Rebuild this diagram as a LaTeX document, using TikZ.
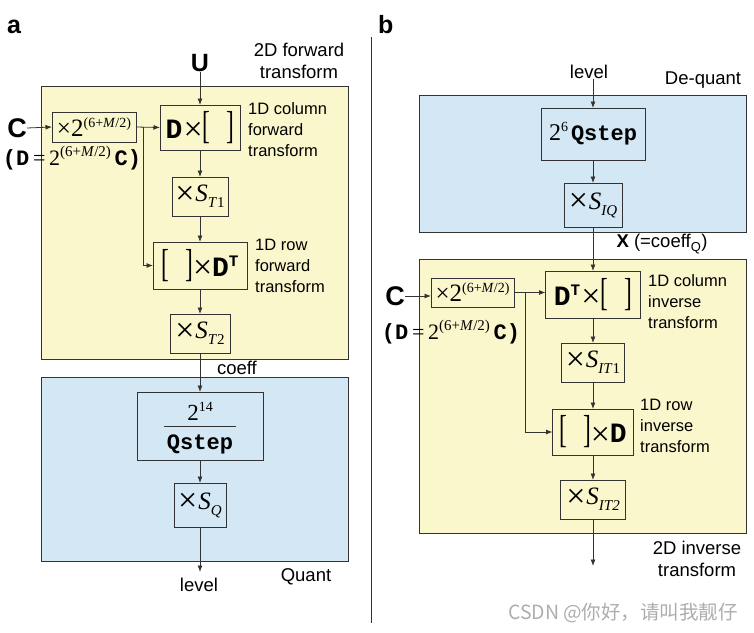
\documentclass[tikz,border=0pt]{standalone}
\usepackage{fontspec}
\usepackage{graphicx}
\setmainfont{Liberation Sans}
\newfontfamily\tms{Liberation Serif}
\newfontfamily\cour{Liberation Mono}
\newfontfamily\cjk{Noto Sans CJK SC}
\usetikzlibrary{arrows.meta}
\definecolor{yelc}{HTML}{FBF7CC}
\definecolor{bluc}{HTML}{D3E7F5}
\definecolor{edge}{HTML}{333333}
\newcommand{\fs}[1]{\fontsize{#1}{#1}\selectfont}
\newcommand{\tim}{\raisebox{-2.5pt}{\tms\fs{34}×}}
\newcommand{\bD}{{\cour\bfseries\fs{28}D}}
\newcommand{\brk}{{\tms\fs{39}\scalebox{0.6}[1]{[}\kern16pt\scalebox{0.6}[1]{]}}}
\newcommand{\Tsup}{\raisebox{10pt}{\cour\bfseries\fs{16}T}}
\newcommand{\expo}[1]{\raisebox{9pt}{\tms\fs{#1}(6+\textit{M}/2)}}
\newcommand{\Sb}[1]{{\tms\fs{25}\textit{S}}\raisebox{-6pt}{\tms\fs{15}#1}}
\tikzset{
  bx/.style={draw=edge, line width=0.9pt, inner sep=0pt, outer sep=0pt},
  yel/.style={fill=yelc, draw=edge, line width=1pt, inner sep=0pt},
  blu/.style={fill=bluc, draw=edge, line width=1pt, inner sep=0pt},
  arr/.style={-{Latex[length=6.5pt,width=5pt]}, line width=0.8pt, draw=edge},
  ln/.style={line width=0.8pt, draw=edge},
  lbl/.style={inner sep=0pt, font=\fontsize{16.5}{21}\selectfont, align=left, anchor=west},
  big/.style={inner sep=0pt, font=\fontsize{18.5}{22.5}\selectfont, align=center},
  panel/.style={inner sep=0pt, font=\bfseries\fontsize{25}{25}\selectfont, anchor=base west},
}
\begin{document}
\begin{tikzpicture}[x=1pt,y=-1pt]
\useasboundingbox (0,0) rectangle (754,632);
% ---------- panel a ----------
\node[panel] (pa) at (7,33) {a};
\node[yel, minimum width=307pt, minimum height=273pt] (yA) at (194.5,222.5) {};
\node[blu, minimum width=307pt, minimum height=184pt] (bA) at (194.5,469) {};
\node[big] (tA) at (299,61) {2D forward\\transform};
\node[inner sep=0pt, font=\bfseries\fs{25}] (U) at (200,63) {U};
\node[inner sep=0pt, font=\bfseries\fs{27}] (Ca) at (17,128) {C};
\node[inner sep=0pt] (dA) at (72,158) {{\cour\bfseries\fs{22}(D}{\tms\fs{22}\,=\,2}\expo{15}{\cour\bfseries\fs{22}\,C)}};
\node[bx, minimum width=84pt, minimum height=30pt] (multA) at (94,127) {{\tms\fs{25}×2}\expo{14}};
\node[bx, minimum width=80pt, minimum height=45pt] (colA) at (200,127.5) {\bD\kern1pt\tim\brk};
\node[lbl] (lcolA) at (248,129.5) {1D column\\forward\\transform};
\node[bx, minimum width=56pt, minimum height=39pt] (st1) at (200,196.5) {\tim\kern1pt\Sb{\textit{T}1}};
\node[bx, minimum width=94pt, minimum height=47pt] (rowA) at (200,265.5) {\brk\tim\bD\Tsup};
\node[lbl] (lrowA) at (255,266) {1D row\\forward\\transform};
\node[bx, minimum width=60pt, minimum height=39pt] (st2) at (200,333.5) {\tim\kern1pt\Sb{\textit{T}2}};
\node[big] (coeff) at (237,368) {coeff};
\node[bx, minimum width=126pt, minimum height=68pt] (qA) at (200,426) {};
\node[inner sep=0pt] (qnum) at (200,411) {{\tms\fs{23}2\raisebox{9pt}{\fs{14}14}}};
\node[inner sep=0pt] (qden) at (200,444) {{\cour\bfseries\fs{22}Qstep}};
\draw[ln] ([xshift=-36pt]qA.center) -- ([xshift=36pt]qA.center);
\node[bx, minimum width=52pt, minimum height=44pt] (sq) at (200,505) {\tim\kern1pt\Sb{\textit{Q}}};
\coordinate (endA) at (200,572);
\node[big] (lvA) at (199,585) {level};
\node[big] (quant) at (306,577) {Quant};
% connectors a
\draw[arr] (U.south) -- (colA.north);
\draw[arr] (Ca.east) -- (multA.west);
\draw[arr] (multA.east) -- (colA.west);
\coordinate (brA) at (143,127);
\draw[arr] (brA) |- (rowA.west);
\draw[arr] (colA.south) -- (st1.north);
\draw[arr] (st1.south) -- (rowA.north);
\draw[arr] (rowA.south) -- (st2.north);
\draw[arr] (st2.south) -- (qA.north);
\draw[arr] (qA.south) -- (sq.north);
\draw[arr] (sq.south) -- (endA);
% divider
\draw[line width=1pt, draw=edge] (371,37) -- (371,623);
% ---------- panel b ----------
\node[panel] (pb) at (378,33) {b};
\node[blu, minimum width=327pt, minimum height=137pt] (bB) at (582.5,163.5) {};
\node[yel, minimum width=327pt, minimum height=274pt] (yB) at (582.5,396) {};
\node[big] (lvB) at (589,72) {level};
\node[big] (deq) at (703,80) {De-quant};
\node[bx, minimum width=104pt, minimum height=52pt] (dq) at (593,134) {{\tms\fs{24}2\raisebox{9pt}{\fs{14}6}}\kern3pt{\cour\bfseries\fs{22}Qstep}};
\node[bx, minimum width=58pt, minimum height=44pt] (siq) at (593,205) {\tim\kern1pt\Sb{\textit{IQ}}};
\node[big] (xl) at (662,244) {\textbf{X} (=coeff\textsubscript{Q})};
\node[inner sep=0pt, font=\bfseries\fs{27}] (Cb) at (395,296) {C};
\node[inner sep=0pt] (dB) at (451,332) {{\cour\bfseries\fs{22}(D}{\tms\fs{22}\,=\,2}\expo{15}{\cour\bfseries\fs{22}\,C)}};
\node[bx, minimum width=83pt, minimum height=29pt] (multB) at (472.5,292.5) {{\tms\fs{25}×2}\expo{14}};
\node[bx, minimum width=95pt, minimum height=47pt] (colB) at (593,294.5) {\bD\Tsup\kern1pt\tim\brk};
\node[lbl] (lcolB) at (648,302) {1D column\\inverse\\transform};
\node[bx, minimum width=63pt, minimum height=39pt] (sit1) at (593,362.5) {\tim\kern1pt\Sb{\textit{IT}1}};
\node[bx, minimum width=81pt, minimum height=46pt] (rowB) at (593,432) {\brk\tim\bD};
\node[lbl] (lrowB) at (640,426) {1D row\\inverse\\transform};
\node[bx, minimum width=65pt, minimum height=39pt] (sit2) at (593,499.5) {\tim\kern1pt\Sb{\textit{IT2}}};
\coordinate (endB) at (593,566);
\node[big] (tB) at (697,559) {2D inverse\\transform};
% connectors b
\draw[arr] (lvB.south -| dq.north) -- (dq.north);
\draw[arr] (dq.south) -- (siq.north);
\draw[arr] (siq.south) -- (colB.north);
\draw[arr] (Cb.east) -- (Cb.east -| multB.west);
\draw[arr] (multB.east) -- (multB.east -| colB.west);
\coordinate (brB) at (525,292.5);
\draw[arr] (brB) |- (rowB.west);
\draw[arr] (colB.south) -- (sit1.north);
\draw[arr] (sit1.south) -- (rowB.north);
\draw[arr] (rowB.south) -- (sit2.north);
\draw[arr] (sit2.south) -- (endB);
% watermark
\node[inner sep=0pt, text=black!32, font=\cjk\fs{19.5}] (wm) at (623,613) {CSDN @你好，请叫我靓仔};
\end{tikzpicture}
\end{document}
